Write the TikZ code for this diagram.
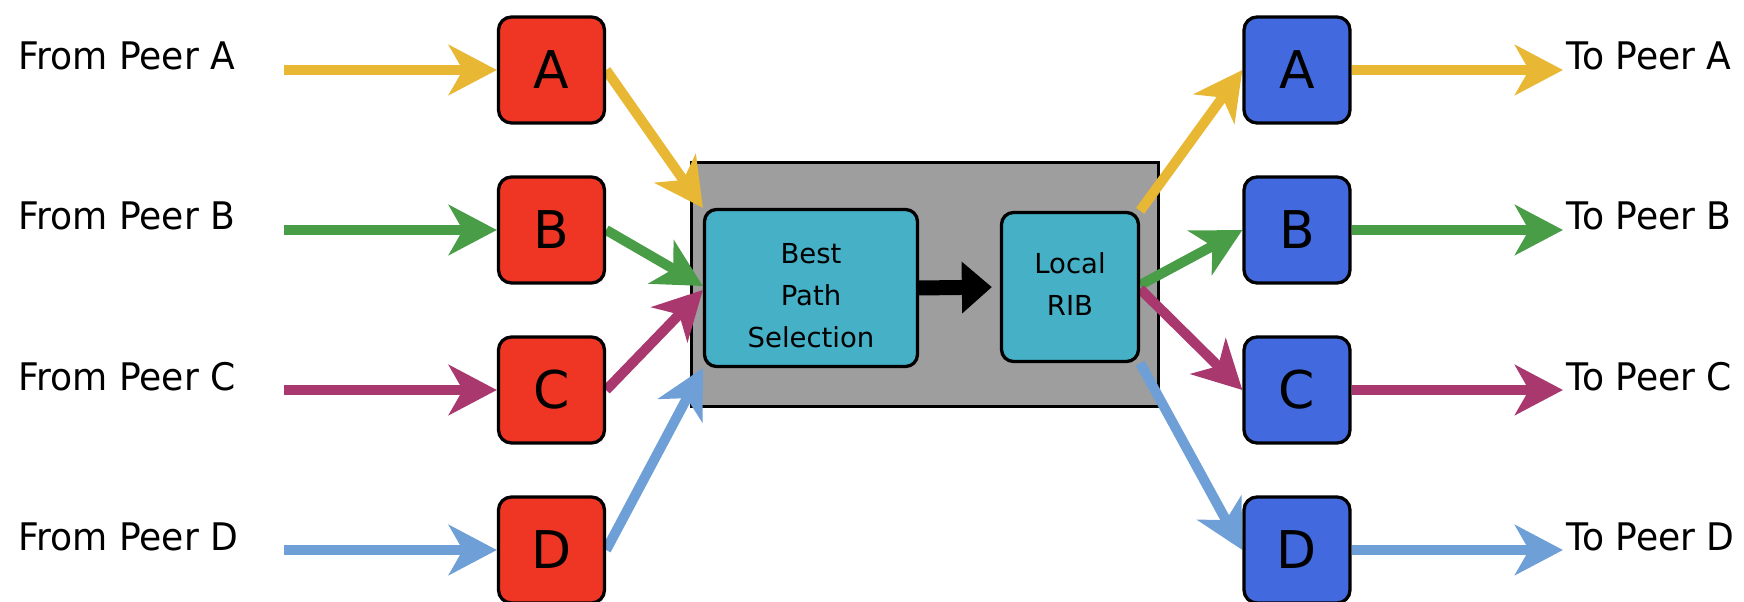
\documentclass[tikz,border=0pt]{standalone}
\usepackage{fontspec}
\setmainfont{DejaVu Sans}
\newfontfamily\peerfont[FakeStretch=0.95]{DejaVu Sans}
\usetikzlibrary{arrows.meta,calc}

\definecolor{inred}{RGB}{239,53,36}
\definecolor{outblue}{RGB}{66,106,222}
\definecolor{stageteal}{RGB}{69,176,198}
\definecolor{coregray}{RGB}{157,158,157}
\definecolor{flowA}{RGB}{232,183,52}
\definecolor{flowB}{RGB}{73,157,71}
\definecolor{flowC}{RGB}{168,56,110}
\definecolor{flowD}{RGB}{110,160,215}

\pgfdeclarelayer{bg}
\pgfdeclarelayer{mid}
\pgfsetlayers{bg,mid,main}

% centred stack of lines with no size of its own, shifted vertically by #1
\newcommand{\stagetext}[2]{\raisebox{#1}[0pt][0pt]{\begin{tabular}{@{}c@{}}#2\end{tabular}}}

\begin{document}
\begin{tikzpicture}[x=1bp,y=-1bp,
  peerbox/.style={draw=black, line width=3.3bp, rounded corners=13bp,
    minimum width=106bp, minimum height=106bp, inner sep=0pt,
    font=\fontsize{52bp}{60bp}\selectfont},
  inbox/.style={peerbox, fill=inred},
  outbox/.style={peerbox, fill=outblue},
  stage/.style={draw=black, line width=3.3bp, rounded corners=12bp,
    fill=stageteal, inner sep=0pt,
    font=\fontsize{27.5bp}{42bp}\selectfont},
  peerlabel/.style={inner sep=0pt, font=\peerfont\fontsize{38bp}{44bp}\selectfont},
  flow/.style={line width=10bp, -{Stealth[length=48bp,width=50bp,inset=14bp]}},
]
\useasboundingbox (0,0) rectangle (1744,602);

% router core
\begin{pgfonlayer}{bg}
  \node[draw=black, line width=3.3bp, fill=coregray, minimum width=467bp,
        minimum height=244bp, inner sep=0pt] (core) at (925,284.5) {};
\end{pgfonlayer}

% processing stages
\node[stage, minimum width=213bp, minimum height=157bp] (best) at (811,288)
  {\stagetext{-15bp}{Best\\Path\\Selection}};
\node[stage, minimum width=137bp, minimum height=149bp] (rib) at (1070,287)
  {\stagetext{-5bp}{Local\\RIB}};
\draw[line width=15bp, -{Triangle[length=30bp,width=50bp]}, shorten >=8bp]
  (best.east) -- (rib.west);

% inbound and outbound peer boxes
\foreach \p/\y in {A/70,B/230,C/390,D/550}{
  \node[inbox]  (in\p)  at (551.5,\y) {\p};
  \node[outbox] (out\p) at (1297,\y)  {\p};
  \node[peerlabel, anchor=base west] (from\p) at (18,\y) {From Peer \p};
  \node[peerlabel, anchor=base west] (to\p) at (1566,\y) {To Peer \p};
  \coordinate (src\p) at (284,\y);
  \coordinate (dst\p) at (1563,\y);
}

% flows
\begin{pgfonlayer}{mid}
  \draw[flow, flowA] (srcA) -- (inA.west);
  \draw[flow, flowB] (srcB) -- (inB.west);
  \draw[flow, flowC] (srcC) -- (inC.west);
  \draw[flow, flowD] (srcD) -- (inD.west);

  \draw[flow, flowA] (inA.east) -- (best.north west);
  \draw[flow, flowB] (inB.east) -- ([yshift=2bp]best.west);
  \draw[flow, flowC] (inC.east) -- ([yshift=-2bp]best.west);
  \draw[flow, flowD] (inD.east) -- (best.south west);

  \draw[flow, flowA] (rib.north east) -- (outA.west);
  \draw[flow, flowB] ([yshift=2bp]rib.east) -- (outB.west);
  \draw[flow, flowC] ([yshift=-2bp]rib.east) -- (outC.west);
  \draw[flow, flowD] (rib.south east) -- (outD.west);

  \draw[flow, flowA] (outA.east) -- (dstA);
  \draw[flow, flowB] (outB.east) -- (dstB);
  \draw[flow, flowC] (outC.east) -- (dstC);
  \draw[flow, flowD] (outD.east) -- (dstD);
\end{pgfonlayer}
\end{tikzpicture}
\end{document}
